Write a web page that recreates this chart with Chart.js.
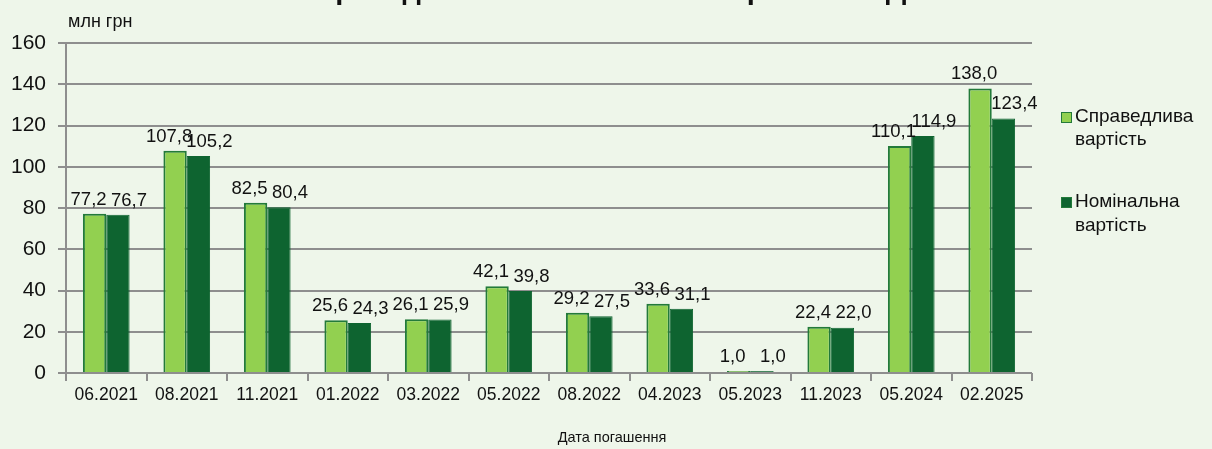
<!DOCTYPE html>
<html>
<head>
<meta charset="utf-8">
<script src="https://cdn.jsdelivr.net/npm/chart.js@4"></script>
<style>
   html, body { margin: 0; padding: 0; background: #eef6ea; }
   #wrap { position: relative; width: 1212px; height: 449px; }
</style>
</head>
<body>
<div id="wrap"><canvas id="chart" width="1212" height="449"></canvas></div>
<script>
const CATEGORIES = ["06.2021", "08.2021", "11.2021", "01.2022", "03.2022", "05.2022", "08.2022", "04.2023", "05.2023", "11.2023", "05.2024", "02.2025"];
const FAIR_VALUE = [77.2, 107.8, 82.5, 25.6, 26.1, 42.1, 29.2, 33.6, 1.0, 22.4, 110.1, 138.0];
const NOMINAL_VALUE = [76.7, 105.2, 80.4, 24.3, 25.9, 39.8, 27.5, 31.1, 1.0, 22.0, 114.9, 123.4];
const SERIES_NAMES = [["Справедлива", "вартість"], ["Номінальна", "вартість"]];
const Y_TICKS = [0, 20, 40, 60, 80, 100, 120, 140, 160];

const LIGHT = "#92d050";
const DARK = "#0e6430";
const EDGE = "#237a3a";
const GRID = "#8e8e8e";
const FONT = "'Liberation Sans', Arial, sans-serif";

function fmt(v) {
   return Number(v).toFixed(1).replace(".", ",");
}

const labelPlugin = {
   id: "barLabels",
   afterDatasetsDraw(chart) {
      const ctx = chart.ctx;
      ctx.save();
      ctx.font = `18.5px ${FONT}`;
      ctx.fillStyle = "#111";
      ctx.textAlign = "center";
      ctx.textBaseline = "bottom";
      const shifts = [-6, 11];
      chart.data.datasets.forEach((ds, di) => {
         chart.getDatasetMeta(di).data.forEach((bar, i) => {
            ctx.fillText(fmt(ds.data[i]), bar.x + shifts[di], bar.y - 5);
         });
      });
      ctx.restore();
   },
};

const decorPlugin = {
   id: "decor",
   afterDraw(chart) {
      const ctx = chart.ctx;
      ctx.save();
      // title, cut off at the top edge as in the source
      ctx.font = `bold 29px ${FONT}`;
      ctx.fillStyle = "#111";
      ctx.textAlign = "center";
      ctx.textBaseline = "alphabetic";
      ctx.fillText("Справедлива та номінальна вартість ОВДП", 612, -1);

      // unit label
      ctx.font = `18px ${FONT}`;
      ctx.textAlign = "left";
      ctx.textBaseline = "middle";
      ctx.fillText("млн грн", 68, 22);

      // axis title, centred on the whole picture
      ctx.font = `14.5px ${FONT}`;
      ctx.textAlign = "center";
      ctx.fillText("Дата погашення", 612, 438);

      // legend
      const colors = [LIGHT, DARK];
      const rows = [[117, 140], [202, 226]];
      ctx.font = `19px ${FONT}`;
      ctx.textAlign = "left";
      SERIES_NAMES.forEach((lines, i) => {
         ctx.fillStyle = colors[i];
         ctx.fillRect(1061, rows[i][0] - 5, 11, 11);
         ctx.strokeStyle = EDGE;
         ctx.lineWidth = 1;
         ctx.strokeRect(1061.5, rows[i][0] - 4.5, 10, 10);
         ctx.fillStyle = "#111";
         lines.forEach((t, j) => ctx.fillText(t, 1075, rows[i][j]));
      });
      ctx.restore();
   },
};

new Chart(document.getElementById("chart"), {
   type: "bar",
   data: {
      labels: CATEGORIES,
      datasets: [
         {
            label: SERIES_NAMES[0].join(" "),
            data: FAIR_VALUE,
            backgroundColor: LIGHT,
            borderColor: EDGE,
            borderWidth: 2,
            categoryPercentage: 0.58,
            barPercentage: 1.0,
         },
         {
            label: SERIES_NAMES[1].join(" "),
            data: NOMINAL_VALUE,
            backgroundColor: DARK,
            borderColor: DARK,
            borderWidth: 1,
            categoryPercentage: 0.58,
            barPercentage: 1.0,
         },
      ],
   },
   options: {
      responsive: false,
      animation: false,
      layout: { padding: { top: 43, right: 180, left: 0, bottom: 0 } },
      plugins: { legend: { display: false }, tooltip: { enabled: false } },
      scales: {
         x: {
            grid: { drawOnChartArea: false, drawTicks: true, tickLength: 8, color: GRID, lineWidth: 2, offset: true },
            border: { display: false },
            ticks: { color: "#111", font: { family: FONT, size: 17.5 }, padding: 4, maxRotation: 0, autoSkip: false },
            afterFit: (scale) => { scale.height = 449 - 373; },
         },
         y: {
            min: 0,
            max: 160,
            afterBuildTicks: (scale) => { scale.ticks = Y_TICKS.map((v) => ({ value: v })); },
            grid: { color: GRID, lineWidth: 2, tickLength: 8 },
            border: { display: true, color: GRID, width: 2 },
            ticks: { color: "#111", font: { family: FONT, size: 21 }, padding: 12 },
            afterFit: (scale) => { scale.width = 66; },
         },
      },
   },
   plugins: [labelPlugin, decorPlugin],
});
</script>
</body>
</html>
